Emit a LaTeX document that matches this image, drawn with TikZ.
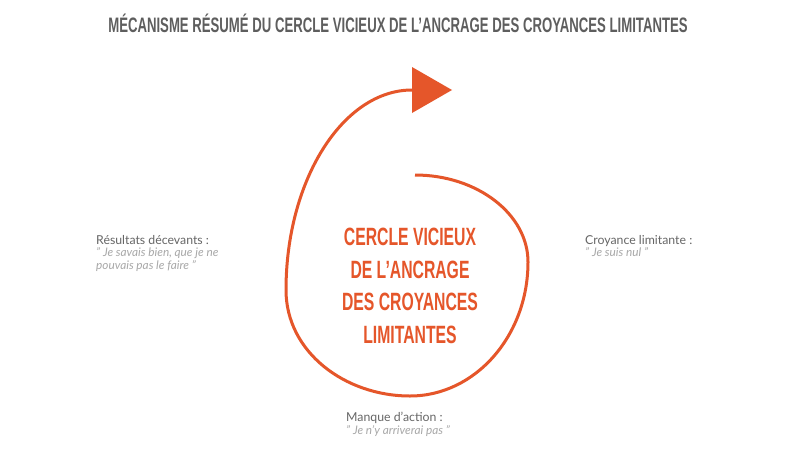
\documentclass[tikz,border=0pt]{standalone}
\usepackage{fontspec}
\setmainfont{Lato}
\newfontfamily\condfont[FakeStretch=0.63]{Liberation Sans Bold}
\definecolor{orng}{HTML}{E5562A}
\definecolor{titlegrey}{HTML}{5E5E5E}
\definecolor{labgrey}{HTML}{666666}
\definecolor{quotegrey}{HTML}{A8A8A8}
\tikzset{
  titletext/.style={font=\condfont\fontsize{20.9}{22}\selectfont, text=titlegrey, inner sep=0},
  centertext/.style={font=\condfont\fontsize{25}{32.5}\selectfont, text=orng, align=center, inner sep=0},
  labtext/.style={align=left, anchor=north west, inner sep=0, font=\fontsize{12.3}{12.6}\selectfont, text=labgrey},
  spiral/.style={draw=orng, line width=3pt},
}
\newcommand{\qt}[1]{{\color{quotegrey}\itshape\fontsize{11.8}{12.6}\selectfont #1}}
\begin{document}
\begin{tikzpicture}[x=1pt,y=-1pt]
\useasboundingbox (0,0) rectangle (800,450);
\fill[white] (0,0) rectangle (800,450);
\node[titletext] (title) at (398,23) {MÉCANISME RÉSUMÉ DU CERCLE VICIEUX DE L’ANCRAGE DES CROYANCES LIMITANTES};
\node[centertext] (center) at (410,286) {CERCLE VICIEUX\\DE L’ANCRAGE\\DES CROYANCES\\LIMITANTES};
\coordinate (s) at (415,175);
\coordinate (r) at (528,262);
\coordinate (b) at (410,396);
\coordinate (l) at (286,290);
\coordinate (t) at (412,90);
\draw[spiral] (s) .. controls (477,175) and (528,214) .. (r)
  .. controls (528,336) and (475,396) .. (b)
  .. controls (345,396) and (286,352) .. (l)
  .. controls (286,180) and (343,90) .. (t);
\fill[orng] (412,67) -- (452,90) -- (412,113) -- cycle;
\node[labtext] (res) at (96,235) {Résultats décevants :\\\qt{" Je savais bien, que je ne}\\\qt{pouvais pas le faire "}};
\node[labtext] (croy) at (585,235) {Croyance limitante :\\\qt{" Je suis nul "}};
\node[labtext] (manq) at (346,412) {Manque d’action :\\\qt{" Je n’y arriverai pas "}};
\end{tikzpicture}
\end{document}
